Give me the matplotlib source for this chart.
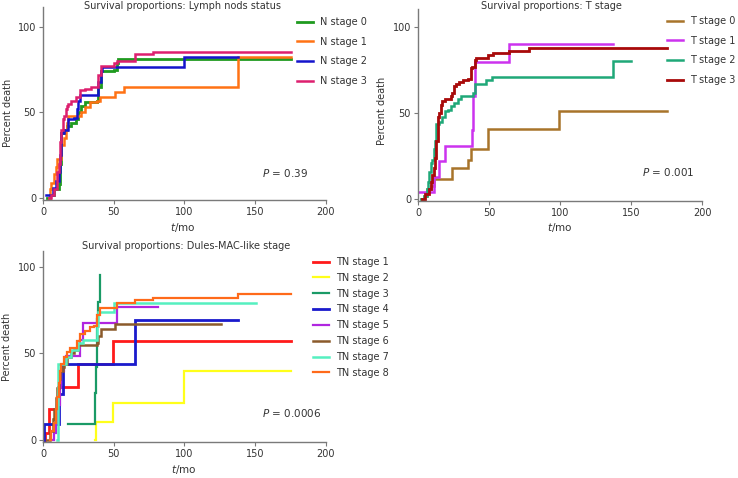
import matplotlib
matplotlib.use("Agg")
import matplotlib.pyplot as plt

plt.rcParams['font.family'] = ['DejaVu Sans']

# ---------------- Data: Lymph node status ----------------
n_labels = ["N stage 0", "N stage 1", "N stage 2", "N stage 3"]
n_colors = ["#1f9a1f", "#ff7214", "#1414cc", "#dd1f6e"]
n0_t = [3, 5, 8, 11, 12, 13, 15, 17, 20, 23, 25, 27, 30, 38, 39, 41, 50, 52, 53, 175]
n0_y = [0, 2, 5, 8, 20, 38, 40, 42, 44, 46, 50, 54, 56, 57, 65, 74, 75, 79, 81.5, 81.5]
n1_t = [4, 5, 6, 8, 9, 10, 12, 13, 15, 16, 17, 18, 25, 27, 30, 33, 38, 40, 51, 57, 138, 175]
n1_y = [0, 5, 9, 14, 18, 23, 23, 31, 35, 40, 44, 48, 48, 50, 53, 56, 57, 59, 62, 65, 82.5, 82.5]
n2_t = [2, 5, 7, 9, 11, 12, 13, 15, 18, 22, 24, 25, 26, 38, 39, 41, 42, 100, 138]
n2_y = [2, 2, 6, 10, 15, 25, 38, 40, 46, 47, 52, 57, 60, 60, 68, 74, 76.5, 82.5, 82.5]
n3_t = [4, 6, 8, 10, 11, 12, 13, 14, 15, 16, 17, 18, 20, 23, 26, 30, 34, 39, 41, 50, 52, 65, 78, 175]
n3_y = [0, 2, 5, 15, 20, 33, 40, 46, 48, 52, 54, 55, 57, 59, 63, 64, 65, 72, 77, 79, 80, 84, 85.2, 85.2]

# ---------------- Data: T stage ----------------
t_labels = ["T stage 0", "T stage 1", "T stage 2", "T stage 3"]
t_colors = ["#a8742a", "#cc33ee", "#1fa878", "#a80a0a"]
t0_t = [2, 4, 6, 9, 11, 24, 35, 37, 49, 99, 175]
t0_y = [0, 2, 6, 8, 12, 18, 23, 29, 41, 51, 51]
t1_t = [0, 11, 15, 19, 38, 38.8, 40, 64, 137]
t1_y = [4, 13, 22, 31, 40, 60, 80, 90, 90]
t2_t = [2, 4, 6, 7, 8, 9, 10, 11, 12, 13, 15, 17, 19, 21, 23, 25, 28, 30, 39, 40, 48, 52, 137, 150]
t2_y = [0, 2, 6, 10, 16, 21, 23, 29, 34, 44, 45, 48, 51, 52, 54, 56, 58, 60, 62, 67, 69, 71, 80.5, 80.5]
t3_t = [3, 5, 8, 9, 10, 11, 12, 13, 14, 15, 16, 17, 19, 23, 24, 25, 27, 29, 32, 35, 37, 38, 40, 41, 49, 53, 64, 78, 175]
t3_y = [0, 3, 6, 10, 14, 18, 24, 34, 48, 50, 55, 57, 58, 60, 62, 66, 67, 68, 69, 70, 76, 77, 81, 82, 84, 85, 86, 88, 88]

# ---------------- Data: Dules-MAC-like stage ----------------
tn_labels = ["TN stage 1", "TN stage 2", "TN stage 3", "TN stage 4",
             "TN stage 5", "TN stage 6", "TN stage 7", "TN stage 8"]
tn_colors = ["#ff1a1a", "#ffff1a", "#1a9a66", "#1a1acc",
             "#b026e0", "#8b5a2b", "#55f0c0", "#ff6a1a"]
tn1_t = [0, 1.4, 4.5, 10.8, 25, 49.7, 175]
tn1_y = [0, 4, 17.7, 30.8, 44, 57, 57]
tn2_t = [36.7, 37.2, 49.7, 100, 175]
tn2_y = [0, 10.5, 21.5, 40, 40]
tn3_t = [18, 36.5, 37.5, 38.5, 39.2, 40.2]
tn3_y = [9, 27, 42, 70, 80, 95.5]
tn4_t = [0, 1, 11, 14, 65, 137.5]
tn4_y = [0, 9, 26.5, 44, 69.5, 69.5]
tn5_t = [7, 8, 9, 10, 12, 13, 15, 16, 26, 28.3, 52.5, 81]
tn5_y = [0, 4, 10, 20, 30, 40, 44, 48.5, 58, 67.5, 77, 77]
tn6_t = [3, 5, 7, 8, 9, 10, 11, 12, 14, 15, 17, 20, 22, 25, 38, 39, 41, 51, 125.5]
tn6_y = [0, 5, 12, 18, 24, 30, 35, 40, 42, 44, 48, 50, 52, 55, 56, 60, 64, 67, 67]
tn7_t = [10, 10.8, 14, 16, 20, 25, 28, 38, 39, 41, 50.5, 150.5]
tn7_y = [0, 44, 44, 48, 52, 56, 58, 66, 74, 74, 79.3, 79.3]
tn8_t = [5, 6, 8, 9, 10, 11, 12, 13, 15, 17, 19, 24, 26, 30, 33, 36, 38, 40, 52, 65, 78, 138, 175.5]
tn8_y = [0, 5, 10, 18, 25, 33, 40, 44, 48, 51, 53, 57, 61, 63, 65, 66, 72, 76, 79, 81, 82.3, 84.2, 84.2]

panels = [
    dict(title="Survival proportions: Lymph nods status",
         series=[(n0_t, n0_y), (n1_t, n1_y), (n2_t, n2_y), (n3_t, n3_y)],
         labels=n_labels, colors=n_colors, lw=[2.0, 1.8, 1.8, 1.8],
         pval="0.39"),
    dict(title="Survival proportions: T stage",
         series=[(t0_t, t0_y), (t1_t, t1_y), (t2_t, t2_y), (t3_t, t3_y)],
         labels=t_labels, colors=t_colors, lw=[1.8, 1.8, 1.8, 2.0],
         pval="0.001"),
    dict(title="Survival proportions: Dules-MAC-like stage",
         series=[(tn1_t, tn1_y), (tn2_t, tn2_y), (tn3_t, tn3_y), (tn4_t, tn4_y),
                 (tn5_t, tn5_y), (tn6_t, tn6_y), (tn7_t, tn7_y), (tn8_t, tn8_y)],
         labels=tn_labels, colors=tn_colors, lw=[2.0, 1.6, 1.6, 2.0, 1.6, 1.8, 1.8, 1.6],
         pval="0.0006"),
]

W, H = 738, 478
fig = plt.figure(figsize=(W / 100, H / 100), dpi=100)

# axes boxes in pixels: (left, top, right, bottom), ylims
boxes = [(43, 7, 326, 200, (-1.2, 111.7)),
         (418, 9, 702, 201, (-1.0, 110.5)),
         (43, 251, 326, 442, (-1.2, 109.2))]
legend_anchor = [(297, 17, 1.0), (667, 16, 1.0), (313, 257, 0.6)]
title_pos = [(182, 6), (551, 6), (186, 246)]
xlabel_pos = [(183, 227), (560, 227), (184, 469)]
ylabel_pos = [(8, 113), (382, 111), (7, 347)]
ptext_pos = [(155, 14.6), (158, 15.7), (155, 15.8)]

spine_col = "#7a7a7a"
text_col = "#333333"
fs = 7

for p, box, la, tp, xp, yp, pp in zip(panels, boxes, legend_anchor, title_pos,
                                       xlabel_pos, ylabel_pos, ptext_pos):
    l, t, r, b, ylim = box
    ax = fig.add_axes([l / W, 1 - b / H, (r - l) / W, (b - t) / H])
    for (xs, ys), lab, c, lw in zip(p["series"], p["labels"], p["colors"], p["lw"]):
        ax.step(xs, ys, where="post", color=c, lw=lw, label=lab, solid_joinstyle="miter")
    ax.set_xlim(0, 200)
    ax.set_ylim(*ylim)
    ax.set_xticks([0, 50, 100, 150, 200])
    ax.set_yticks([0, 50, 100])
    for s in ["top", "right"]:
        ax.spines[s].set_visible(False)
    for s in ["left", "bottom"]:
        ax.spines[s].set_color(spine_col)
        ax.spines[s].set_linewidth(1.0)
    ax.tick_params(axis="both", direction="out", length=3, width=0.8,
                   color=spine_col, labelsize=fs, labelcolor=text_col, pad=2)
    ax.text(pp[0], pp[1], r"$P$ = " + p["pval"], fontsize=fs + 0.5, color=text_col,
            ha="left", va="center")
    fig.text(tp[0] / W, 1 - tp[1] / H, p["title"], fontsize=fs, color=text_col,
             ha="center", va="center")
    fig.text(xp[0] / W, 1 - xp[1] / H, r"$t$/mo", fontsize=fs + 0.5, color=text_col,
             ha="center", va="center")
    fig.text(yp[0] / W, 1 - yp[1] / H, "Percent death", fontsize=fs, color=text_col,
             ha="center", va="center", rotation=90)
    leg = ax.legend(loc="upper left", bbox_to_anchor=(la[0] / W, 1 - la[1] / H),
                    bbox_transform=fig.transFigure, frameon=False, fontsize=fs,
                    handlelength=1.6, handletextpad=0.8, labelspacing=la[2],
                    borderpad=0, borderaxespad=0)
    for txt in leg.get_texts():
        txt.set_color(text_col)

fig.savefig("out.png", dpi=100)
